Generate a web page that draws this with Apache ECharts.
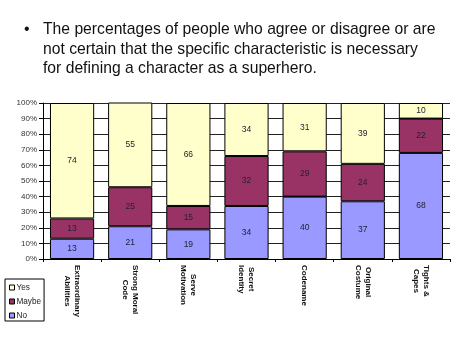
<!DOCTYPE html>
<html>
<head>
<meta charset="utf-8">
<script src="https://cdn.jsdelivr.net/npm/echarts@6/dist/echarts.min.js"></script>
<style>
  html, body { margin: 0; padding: 0; background: #fff; }
  #main { width: 473px; height: 354px; }
</style>
</head>
<body>
<div id="main"></div>
<script>
const categories = [
  'Extraordinary\nAbilities',
  'Strong Moral\nCode',
  'Serve\nMotivation',
  'Secret\nIdentity',
  'Codename',
  'Original\nCostume',
  'Tights &\nCapes'
];
const noValues = [13, 21, 19, 34, 40, 37, 68];
const maybeValues = [13, 25, 15, 32, 29, 24, 22];
const yesValues = [74, 55, 66, 34, 31, 39, 10];
const yTicks = [0, 10, 20, 30, 40, 50, 60, 70, 80, 90, 100];

const font = 'Arial, "Liberation Sans", sans-serif';

function barSeries(name, data, color) {
  return {
    name: name,
    type: 'bar',
    stack: 'total',
    data: data,
    clip: true,
    barCategoryGap: '24%',
    itemStyle: { color: color, borderColor: '#000', borderWidth: 1 },
    label: {
      show: true,
      position: 'inside',
      color: '#222233',
      fontSize: 8.5,
      fontFamily: font
    }
  };
}

const chart = echarts.init(document.getElementById('main'));
const option = {
  animation: false,
  title: [
    {
      text: '•',
      left: 24, top: 20, padding: 0,
      textStyle: { fontSize: 16, fontWeight: 'normal', color: '#111', fontFamily: font, lineHeight: 20 }
    },
    {
      text: 'The percentages of people who agree or disagree or are\nnot certain that the specific characteristic is necessary\nfor defining a character as a superhero.',
      left: 43, top: 20, padding: 0,
      textStyle: { fontSize: 15.7, fontWeight: 'normal', color: '#111', fontFamily: font, lineHeight: 19.5 }
    }
  ],
  legend: {
    orient: 'vertical',
    left: 5, top: 279,
    data: ['Yes', 'Maybe', 'No'],
    padding: [4, 3, 1, 4],
    borderColor: '#000',
    borderWidth: 1,
    itemWidth: 5,
    itemHeight: 5,
    itemGap: 5,
    icon: 'rect',
    itemStyle: { borderColor: '#000', borderWidth: 1 },
    textStyle: { fontSize: 8.2, lineHeight: 9, color: '#222', fontFamily: font, padding: [0, 0, 0, -3] }
  },
  grid: { left: 43, right: 23, top: 103, bottom: 95 },
  xAxis: {
    type: 'category',
    data: categories,
    axisLine: { lineStyle: { color: '#000', width: 1 } },
    axisTick: { show: true, length: 3, lineStyle: { color: '#000' } },
    axisLabel: {
      rotate: -90,
      margin: 6,
      interval: 0,
      fontSize: 8,
      fontWeight: 'bold',
      color: '#111',
      fontFamily: font,
      lineHeight: 10,
      formatter: v => v.split('\n').map(s => '{c|' + s + '}').join('\n'),
      rich: { c: { align: 'center', fontSize: 8, fontWeight: 'bold', lineHeight: 10, fontFamily: font, color: '#111' } }
    }
  },
  yAxis: {
    type: 'value',
    min: yTicks[0],
    max: yTicks[yTicks.length - 1],
    interval: 10,
    axisLine: { show: true, lineStyle: { color: '#000', width: 1 } },
    axisTick: { show: true, length: 4, lineStyle: { color: '#000' } },
    splitLine: { show: true, lineStyle: { color: '#222', width: 1 } },
    axisLabel: {
      formatter: '{value}%',
      fontSize: 8,
      color: '#333',
      margin: 6,
      fontFamily: font
    }
  },
  series: [
    barSeries('No', noValues, '#9999FF'),
    barSeries('Maybe', maybeValues, '#993366'),
    barSeries('Yes', yesValues, '#FFFFCC')
  ]
};
chart.setOption(option);
</script>
</body>
</html>
